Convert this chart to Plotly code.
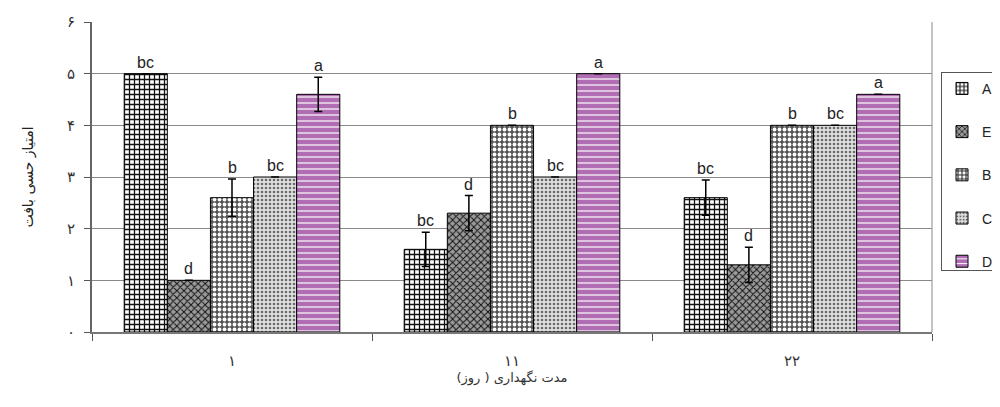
import plotly.graph_objects as go
import numpy as np

categories = ["۱", "۱۱", "۲۲"]
series_names = ["A", "E", "B", "C", "D"]
values = {
    "A": [5.0, 1.6, 2.6],
    "E": [1.0, 2.3, 1.3],
    "B": [2.6, 4.0, 4.0],
    "C": [3.0, 3.0, 4.0],
    "D": [4.6, 5.0, 4.6],
}
errors = {
    "A": [None, 0.33, 0.34],
    "E": [None, 0.34, 0.34],
    "B": [0.36, None, None],
    "C": [None, None, None],
    "D": [0.33, None, None],
}
letters = {
    "A": ["bc", "bc", "bc"],
    "E": ["d", "d", "d"],
    "B": ["b", "b", "b"],
    "C": ["bc", "bc", "bc"],
    "D": ["a", "a", "a"],
}
y_ticks = ["۰", "۱", "۲", "۳", "۴", "۵", "۶"]
x_title = "مدت نگهداری ( روز)"
y_title = "امتیاز حسی بافت"

styles = {
    "A": dict(shape="+", fg="#111111", bg="#ffffff", size=5, sol=0.45),
    "E": dict(shape="x", fg="#111111", bg="#9a9a9a", size=5, sol=0.35),
    "B": dict(shape=".", fg="#ffffff", bg="#555555", size=5, sol=0.45),
    "C": dict(shape=".", fg="#6a6a6a", bg="#e0e0e0", size=4, sol=0.35),
    "D": dict(shape="-", fg="#ffffff", bg="#b16db3", size=6, sol=0.2),
}

group_width = 0.77
n = len(series_names)
bw = group_width / n
gx = np.arange(len(categories))

fig = go.Figure()
annots = []
for i, s in enumerate(series_names):
    off = -group_width / 2 + bw * (i + 0.5)
    xs = gx + off
    st = styles[s]
    fig.add_trace(go.Bar(
        x=xs, y=values[s], width=bw, name=s, legendgroup=s,
        marker=dict(color=st["bg"], line=dict(color="#000000", width=1),
                    pattern=dict(shape=st["shape"], fgcolor=st["fg"], bgcolor=st["bg"],
                                 size=st["size"], solidity=st["sol"], fillmode="replace")),
        error_y=dict(type="data", array=[e if e is not None else float("nan") for e in errors[s]],
                     visible=True, color="#000000", thickness=1.5, width=4),
    ))
    for k in range(len(categories)):
        top = values[s][k] + (errors[s][k] if errors[s][k] is not None else 0)
        annots.append(dict(x=xs[k], y=top, text=letters[s][k], showarrow=False,
                           yanchor="bottom", yshift=1, xref="x", yref="y",
                           font=dict(family="Liberation Sans, Arial", size=16, color="#222222")))

# page body has an 8px default margin, so the figure is sized to fit the window
fig.update_layout(
    width=992, height=399,
    margin=dict(l=84, r=68, t=14, b=75),
    paper_bgcolor="white", plot_bgcolor="white",
    barmode="overlay",
    showlegend=True,
    legend=dict(xref="container", yref="container", x=0.999, xanchor="right",
                y=0.84, yanchor="top",
                bordercolor="#555555", borderwidth=1,
                font=dict(family="Liberation Sans, Arial", size=14, color="#222222"),
                tracegroupgap=22, itemwidth=30),
    annotations=annots,
    xaxis=dict(range=[-0.5, 2.5], tickvals=list(gx), ticktext=categories,
               ticks="", showgrid=False, showline=True, linecolor="#777777", linewidth=1.5,
               mirror=False, zeroline=False, ticklabelstandoff=14, automargin=False,
               tickfont=dict(family="DejaVu Sans", size=15, color="#333333"),
               minor=dict(tick0=0.5, dtick=1, ticks="outside", ticklen=7, tickcolor="#555555"),
               title=dict(text=x_title, standoff=0,
                          font=dict(family="DejaVu Sans", size=13, color="#333333"))),
    yaxis=dict(range=[0, 6], tickvals=list(range(7)), ticktext=y_ticks,
               ticks="outside", ticklen=6, tickcolor="#555555",
               showgrid=True, gridcolor="#8a8a8a", gridwidth=1,
               showline=True, linecolor="#666666", linewidth=2, zeroline=False,
               ticklabelstandoff=6, automargin=False,
               tickfont=dict(family="DejaVu Sans", size=15, color="#333333"),
               title=dict(text=y_title, standoff=30,
                          font=dict(family="DejaVu Sans", size=14, color="#222222"))),
    shapes=[dict(type="line", xref="paper", yref="paper", x0=1, x1=1, y0=0, y1=1,
                 line=dict(color="#888888", width=1))],
)

fig.write_html("out.html")
